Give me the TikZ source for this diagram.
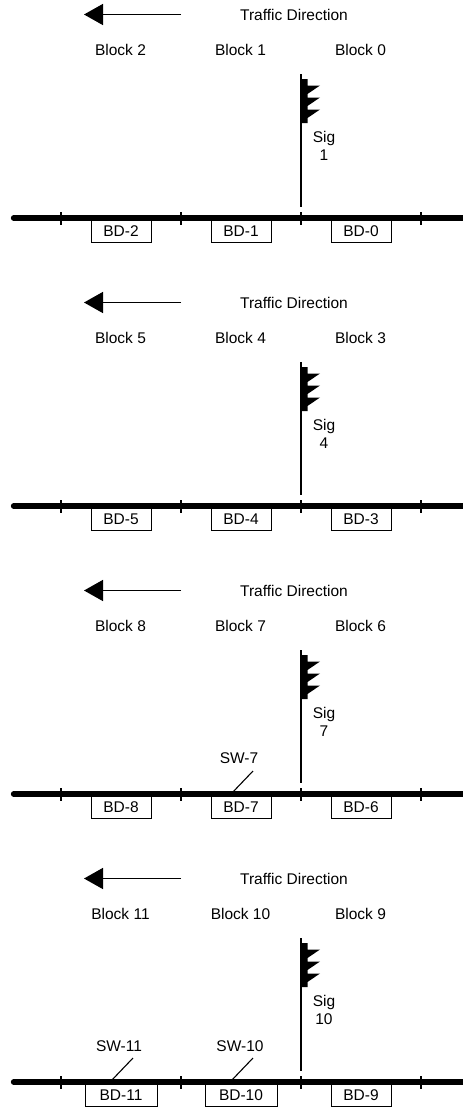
\documentclass[tikz,border=0pt]{standalone}
\usepackage{fontspec}
\setmainfont{Liberation Sans}
\usetikzlibrary{arrows.meta,positioning}

\begin{document}
\begin{tikzpicture}[
    x=1pt, y=-1pt,
    label/.style={font=\fontsize{15.5}{18}\selectfont, inner sep=0pt, align=center},
    bdbox/.style={rectangle, draw, line width=0.8pt, fill=white, font=\fontsize{15.5}{15.5}\selectfont, minimum height=23pt, inner sep=0pt, anchor=north},
    track/.style={line width=5.3pt, line cap=round},
    tick/.style={line width=1.1pt},
    mast/.style={line width=1.5pt},
    swline/.style={line width=1.1pt},
    arrow/.style={-{Triangle[length=19pt,width=21pt]}, line width=1.5pt}
]
    \useasboundingbox (0,0) rectangle (463,1112);
    \foreach \n/\y/\p/\q/\r/\s in {a/0/2/1/0/1, b/288/5/4/3/4, c/576/8/7/6/7, d/864/11/10/9/10} {
        \begin{scope}[yshift=-\y pt]
            % traffic arrow
            \coordinate (arrowstart\n) at (181,14.5);
            \coordinate (arrowend\n) at (84,14.5);
            \draw[arrow] (arrowstart\n) -- (arrowend\n);
            \node[label] (dir\n) at (294,14.5) {Traffic Direction};
            \node[label] (blockl\n) at (120.5,50) {Block \p};
            \node[label] (blockm\n) at (240.5,50) {Block \q};
            \node[label] (blockr\n) at (360.5,50) {Block \r};
            % signal
            \coordinate (masttop\n) at (301,74);
            \coordinate (mastfoot\n) at (301,207);
            \draw[mast] (masttop\n) -- (mastfoot\n);
            \fill (301,79) -- (307.5,79) -- (307.5,85.5) -- (320,85.5) -- (307.5,94) -- (307.5,97.5)
                -- (320,97.5) -- (307.5,106) -- (307.5,109.5) -- (320,109.5) -- (307.5,118)
                -- (307.5,123) -- (301,123) -- cycle;
            \node[label] (sig\n) at (324,146) {Sig\\\s};
            % track and block boxes
            \ifnum\p=11
                \node[bdbox, minimum width=72pt] (bdl\n) at (121,219) {BD-\p};
                \node[bdbox, minimum width=72pt] (bdm\n) at (241,219) {BD-\q};
            \else
                \node[bdbox, minimum width=60pt] (bdl\n) at (121,219) {BD-\p};
                \node[bdbox, minimum width=60pt] (bdm\n) at (241,219) {BD-\q};
            \fi
            \node[bdbox, minimum width=60pt] (bdr\n) at (361,219) {BD-\r};
            \coordinate (trackl\n) at (13.5,218);
            \coordinate (trackr\n) at (466,218);
            \draw[track] (trackl\n) -- (trackr\n);
            \foreach \t/\x in {1/61,2/181,3/301,4/421} {
                \coordinate (ticktop\n\t) at (\x,212);
                \coordinate (tickbot\n\t) at (\x,225);
                \draw[tick] (ticktop\n\t) -- (tickbot\n\t);
            }
        \end{scope}
    }
    % switches
    \node[label] (sw7) at (239,758) {SW-7};
    \coordinate (sw7top) at (253,771);
    \coordinate (sw7foot) at (231,794);
    \draw[swline] (sw7top) -- (sw7foot);
    \node[label] (sw11) at (119,1046) {SW-11};
    \coordinate (sw11top) at (133,1058);
    \coordinate (sw11foot) at (111,1081);
    \draw[swline] (sw11top) -- (sw11foot);
    \node[label] (sw10) at (240,1046) {SW-10};
    \coordinate (sw10top) at (253,1058);
    \coordinate (sw10foot) at (231,1081);
    \draw[swline] (sw10top) -- (sw10foot);
\end{tikzpicture}
\end{document}
